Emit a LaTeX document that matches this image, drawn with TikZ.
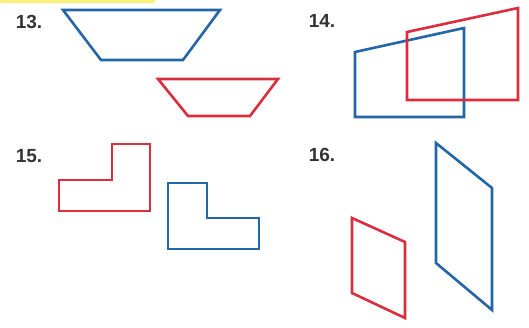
\documentclass[tikz,border=0pt]{standalone}
\usepackage{fontspec}
\newfontfamily\labelfont{Liberation Sans}
\definecolor{figblue}{RGB}{35,102,168}
\definecolor{figred}{RGB}{218,46,62}
\definecolor{marker}{RGB}{250,240,120}
\tikzset{
  bluefig/.style={draw=figblue,line width=2.6pt,line join=miter},
  redfig/.style={draw=figred,line width=2.6pt,line join=miter},
  exno/.style={font=\labelfont\bfseries\fontsize{19}{19}\selectfont,text=black!80,inner sep=0pt}
}
\begin{document}
\begin{tikzpicture}[x=1pt,y=-1pt]
\useasboundingbox (0,0) rectangle (529,328);
\fill[marker,rounded corners=2pt] (0,-4) rectangle (155,3);

% 13
\node[exno] (n13) at (29,22) {13.};
\draw[bluefig] (63,10) -- (220,10) -- (183,60) -- (101,60) -- cycle;
\draw[redfig] (158,79) -- (278,79) -- (250,116) -- (188,116) -- cycle;

% 14
\node[exno] (n14) at (322,21) {14.};
\draw[bluefig] (355,52) -- (464,28) -- (464,117) -- (355,117) -- cycle;
\draw[redfig] (407,32) -- (518,8) -- (518,100) -- (407,100) -- cycle;

% 15
\node[exno] (n15) at (29,156) {15.};
\draw[redfig] (59,180) -- (112,180) -- (112,144) -- (150,144) -- (150,211) -- (59,211) -- cycle;
\draw[bluefig] (168,183) -- (207,183) -- (207,218) -- (259,218) -- (259,249) -- (168,249) -- cycle;

% 16
\node[exno] (n16) at (322,155) {16.};
\draw[redfig] (352,218) -- (405,242) -- (405,318) -- (352,293) -- cycle;
\draw[bluefig] (436,143) -- (492,188) -- (492,310) -- (436,263) -- cycle;
\end{tikzpicture}
\end{document}
